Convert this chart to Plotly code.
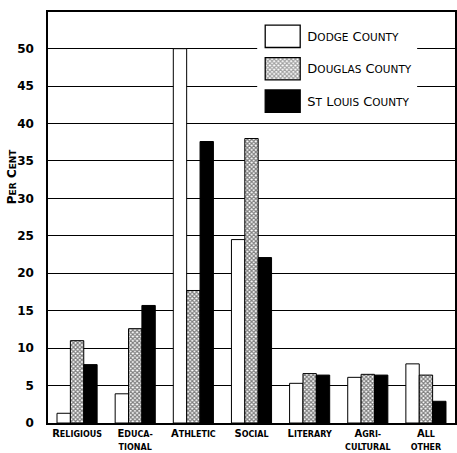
import plotly.graph_objects as go

categories = ["Religious", "Educational", "Athletic", "Social", "Literary", "Agricultural", "All Other"]
tick_labels = [
    "R<span style='font-size:8px'>ELIGIOUS</span>",
    "E<span style='font-size:8px'>DUCA-</span><br><span style='font-size:8px'>TIONAL</span>",
    "A<span style='font-size:8px'>THLETIC</span>",
    "S<span style='font-size:8px'>OCIAL</span>",
    "L<span style='font-size:8px'>ITERARY</span>",
    "A<span style='font-size:8px'>GRI-</span><br><span style='font-size:8px'>CULTURAL</span>",
    "A<span style='font-size:8px'>LL</span><br><span style='font-size:8px'>OTHER</span>",
]
series_names = ["Dodge County", "Douglas County", "St Louis County"]
legend_labels = [
    "&nbsp;D<span style='font-size:10.5px'>ODGE</span> C<span style='font-size:10.5px'>OUNTY</span>",
    "&nbsp;D<span style='font-size:10.5px'>OUGLAS</span> C<span style='font-size:10.5px'>OUNTY</span>",
    "&nbsp;S<span style='font-size:10.5px'>T</span> L<span style='font-size:10.5px'>OUIS</span> C<span style='font-size:10.5px'>OUNTY</span>",
]
dodge = [1.3, 3.9, 50.0, 24.5, 5.3, 6.1, 7.9]
douglas = [11.0, 12.6, 17.7, 38.0, 6.6, 6.5, 6.4]
st_louis = [7.8, 15.7, 37.6, 22.1, 6.4, 6.4, 2.9]
y_ticks = [0, 5, 10, 15, 20, 25, 30, 35, 40, 45, 50]

font_family = "DejaVu Sans"
hatch = dict(shape="x", fgcolor="black", bgcolor="white", size=3, solidity=0.65)

fig = go.Figure()
line = dict(color="black", width=1)
fig.add_trace(go.Bar(x=categories, y=dodge, name=series_names[0],
                     marker=dict(color="white", line=line)))
fig.add_trace(go.Bar(x=categories, y=douglas, name=series_names[1],
                     marker=dict(color="white", line=line, pattern=hatch)))
fig.add_trace(go.Bar(x=categories, y=st_louis, name=series_names[2],
                     marker=dict(color="black", line=line)))

# legend: swatches in an inset subplot, names as bar text
fig.add_trace(go.Bar(y=series_names, x=[1, 1, 1], orientation="h",
                     xaxis="x2", yaxis="y2", showlegend=False, hoverinfo="skip",
                     text=legend_labels, textposition="outside", cliponaxis=False,
                     textfont=dict(size=13, family=font_family, color="black"),
                     marker=dict(color=["white", "white", "black"],
                                 line=dict(color="black", width=1.3),
                                 pattern=dict(shape=["", "x", ""], fgcolor="black",
                                              bgcolor="white", size=3, solidity=0.65))))

fig.update_layout(
    width=457, height=453,
    margin=dict(l=48, r=2, t=12, b=30, autoexpand=False),
    paper_bgcolor="white", plot_bgcolor="white",
    barmode="group", bargap=0.31, bargroupgap=0,
    showlegend=False,
    font=dict(family=font_family, color="black", size=12),
    xaxis=dict(
        tickmode="array", tickvals=categories, ticktext=tick_labels,
        range=[-0.5, 6.5], showgrid=False, showline=True, linecolor="black",
        linewidth=1.5, mirror=True, ticks="", ticklabelstandoff=0,
        tickfont=dict(size=10, family=font_family, weight="bold"), automargin=False,
    ),
    yaxis=dict(
        range=[0, 54.9], tickvals=y_ticks, showgrid=True, gridcolor="black",
        gridwidth=1, showline=True, linecolor="black", linewidth=1.5, mirror=True,
        ticks="", ticklabelstandoff=10, zeroline=False, automargin=False,
        tickfont=dict(size=12, family=font_family, weight="bold"),
    ),
    xaxis2=dict(domain=[0.514, 0.907], range=[-0.229, 4.343], anchor="y2",
                visible=False, fixedrange=True),
    yaxis2=dict(domain=[0.742, 0.999], anchor="x2", range=[2.523, -0.738],
                visible=False, fixedrange=True),
    annotations=[dict(
        text="P<span style='font-size:9px'>ER</span> C<span style='font-size:9px'>ENT</span>",
        xref="paper", yref="paper", x=-0.088, y=0.601, textangle=-90,
        showarrow=False, font=dict(size=12, family=font_family, weight="bold"),
        xanchor="center", yanchor="middle")],
)

fig.write_html("out.html", config={"displayModeBar": False},
               post_script="document.body.style.margin='0';")
